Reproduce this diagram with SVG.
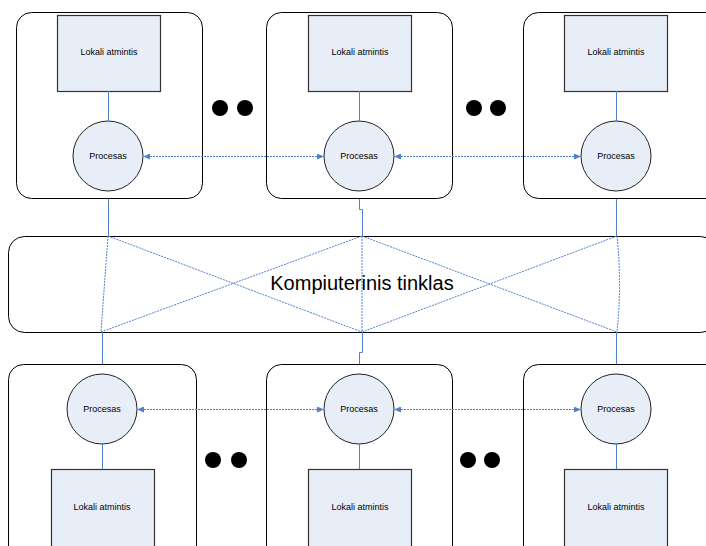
<svg xmlns="http://www.w3.org/2000/svg" width="706" height="546" viewBox="0 0 706 546">
<defs>
<style>
.outer{fill:#fff;stroke:#000;stroke-width:1}
.mem{fill:#E8EEF8;stroke:#333;stroke-width:1.2}
.proc{fill:#E8EEF8;stroke:#222;stroke-width:1}
.lbl{font-family:"Liberation Sans",Arial,sans-serif;font-size:9px;fill:#000;text-anchor:middle}
.big{font-family:"Liberation Sans",Arial,sans-serif;font-size:20px;fill:#000;text-anchor:middle}
.solid{fill:none;stroke:#4F81D0;stroke-width:1}
.dash{fill:none;stroke:#4F81D0;stroke-width:1;stroke-dasharray:2 1}
.dot{fill:#000}
</style>
<marker id="ah" markerWidth="7" markerHeight="6" refX="6" refY="3" orient="auto-start-reverse" markerUnits="userSpaceOnUse">
<path d="M0,0 L7,3 L0,6 Z" fill="#4F81D0"/>
</marker>
</defs>
<rect width="706" height="546" fill="#fff"/>

<g id="network">
<rect x="8.5" y="236.5" width="708" height="96" rx="16" class="outer" stroke="#444"/>
<text x="362" y="290" class="big">Kompiuterinis tinklas</text>
</g>

<g id="node-top-1">
<rect x="16.5" y="12.5" width="186" height="186" rx="15" class="outer"/>
<rect x="57.5" y="15.5" width="103" height="76" class="mem"/>
<text x="109" y="55" class="lbl">Lokali atmintis</text>
<circle cx="108" cy="156" r="35" class="proc"/>
<text x="108" y="159" class="lbl">Procesas</text>
</g>
<g id="node-top-2">
<rect x="266.5" y="12.5" width="186" height="186" rx="15" class="outer"/>
<rect x="308.5" y="15.5" width="103" height="76" class="mem"/>
<text x="360" y="55" class="lbl">Lokali atmintis</text>
<circle cx="359" cy="156" r="35" class="proc"/>
<text x="359" y="159" class="lbl">Procesas</text>
</g>
<g id="node-top-3">
<rect x="523.5" y="12.5" width="200" height="186" rx="15" class="outer"/>
<rect x="564.5" y="15.5" width="103" height="76" class="mem"/>
<text x="616" y="55" class="lbl">Lokali atmintis</text>
<circle cx="616" cy="156" r="35" class="proc"/>
<text x="616" y="159" class="lbl">Procesas</text>
</g>

<g id="node-bottom-1">
<rect x="8.5" y="364.5" width="188" height="200" rx="15" class="outer"/>
<rect x="51.5" y="469.5" width="103" height="90" class="mem"/>
<text x="102" y="510" class="lbl">Lokali atmintis</text>
<circle cx="102" cy="409" r="35" class="proc"/>
<text x="102" y="412" class="lbl">Procesas</text>
</g>
<g id="node-bottom-2">
<rect x="266.5" y="364.5" width="186" height="200" rx="15" class="outer"/>
<rect x="308.5" y="469.5" width="103" height="90" class="mem"/>
<text x="360" y="510" class="lbl">Lokali atmintis</text>
<circle cx="359" cy="409" r="35" class="proc"/>
<text x="359" y="412" class="lbl">Procesas</text>
</g>
<g id="node-bottom-3">
<rect x="523.5" y="364.5" width="200" height="200" rx="15" class="outer"/>
<rect x="564.5" y="469.5" width="103" height="90" class="mem"/>
<text x="616" y="510" class="lbl">Lokali atmintis</text>
<circle cx="616" cy="409" r="35" class="proc"/>
<text x="616" y="412" class="lbl">Procesas</text>
</g>

<g id="ellipsis">
<circle cx="220" cy="108" r="8" class="dot"/>
<circle cx="245" cy="108" r="8" class="dot"/>
<circle cx="474" cy="108" r="8" class="dot"/>
<circle cx="498" cy="108" r="8" class="dot"/>
<circle cx="213" cy="460" r="8" class="dot"/>
<circle cx="239" cy="460" r="8" class="dot"/>
<circle cx="468" cy="460" r="8" class="dot"/>
<circle cx="492" cy="460" r="8" class="dot"/>
</g>

<g id="connectors">
<line x1="108.5" y1="91" x2="108.5" y2="121" class="solid"/>
<line x1="359.5" y1="91" x2="359.5" y2="121" class="solid"/>
<line x1="616.5" y1="91" x2="616.5" y2="121" class="solid"/>
<line x1="102.5" y1="444" x2="102.5" y2="469" class="solid"/>
<line x1="359.5" y1="444" x2="359.5" y2="469" class="solid"/>
<line x1="616.5" y1="444" x2="616.5" y2="469" class="solid"/>

<line x1="144" y1="156.5" x2="323" y2="156.5" class="dash" marker-start="url(#ah)" marker-end="url(#ah)"/>
<line x1="395" y1="156.5" x2="580" y2="156.5" class="dash" marker-start="url(#ah)" marker-end="url(#ah)"/>
<line x1="138" y1="409.5" x2="323" y2="409.5" class="dash" marker-start="url(#ah)" marker-end="url(#ah)"/>
<line x1="395" y1="409.5" x2="580" y2="409.5" class="dash" marker-start="url(#ah)" marker-end="url(#ah)"/>

<line x1="108.5" y1="199" x2="108.5" y2="236" class="solid"/>
<path d="M359.5,199 V209.5 H362.5 V236" class="solid"/>
<line x1="616.5" y1="199" x2="616.5" y2="236" class="solid"/>
<line x1="102.5" y1="332" x2="102.5" y2="364" class="solid"/>
<path d="M362.5,332 V352.5 H359.5 V364" class="solid"/>
<line x1="616.5" y1="332" x2="616.5" y2="364" class="solid"/>

<line x1="108" y1="236" x2="101" y2="332" class="dash"/>
<line x1="362" y1="236" x2="362" y2="332" class="dash"/>
<path d="M617,236 Q622,284 617,332" class="dash"/>
<line x1="108" y1="236" x2="362" y2="332" class="dash"/>
<line x1="101" y1="332" x2="362" y2="236" class="dash"/>
<line x1="362" y1="236" x2="617" y2="332" class="dash"/>
<line x1="362" y1="332" x2="617" y2="236" class="dash"/>
</g>
</svg>
